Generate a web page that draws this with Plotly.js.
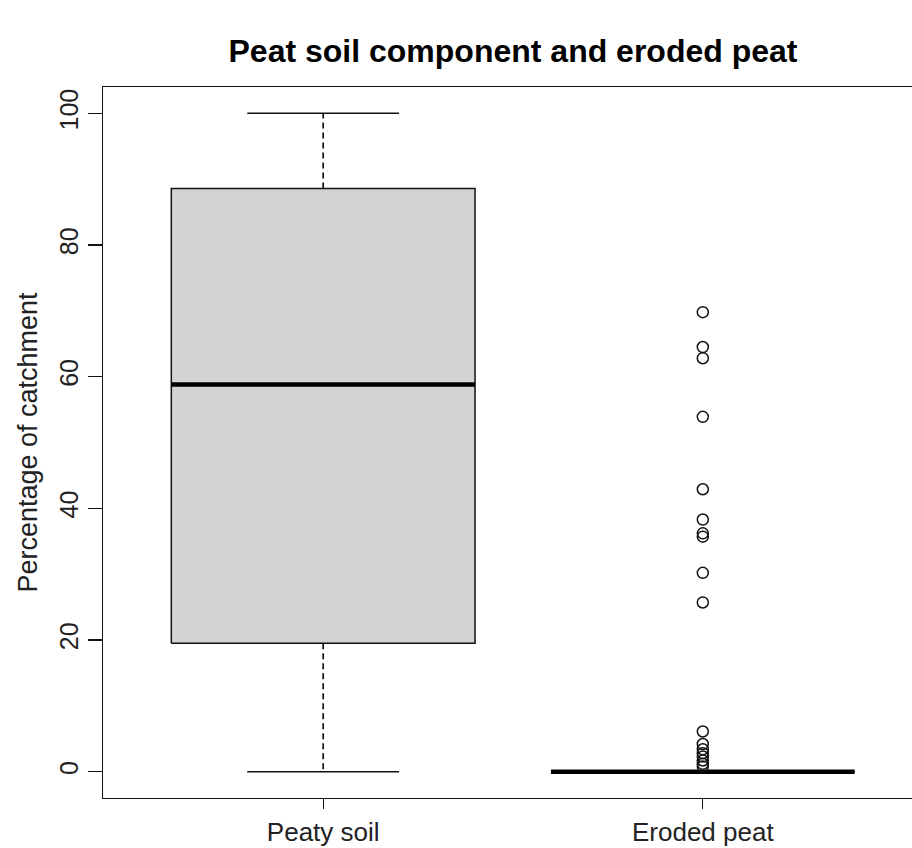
<!DOCTYPE html>
<html>
<head>
<meta charset="utf-8">
<script src="https://cdn.plot.ly/plotly-3.0.1.min.js"></script>
<style>
  html, body { margin: 0; padding: 0; overflow: hidden; background: #ffffff; }
  #chart { width: 924px; height: 848px; }
</style>
</head>
<body>
<div id="chart"></div>
<script>
// ---- data ----
var categories = ["Peaty soil", "Eroded peat"];
var lowerWhisker = [0, 0];
var q1 = [19.5, 0];
var medians = [58.8, 0];
var q3 = [88.6, 0];
var upperWhisker = [100, 0];
var outliersPeaty = [];
var outliersEroded = [69.8, 64.5, 62.8, 53.9, 42.9, 38.3, 36.2, 35.7, 30.2, 25.7,
                      6.1, 4.2, 3.4, 2.8, 2.3, 1.7, 1.2, 0.8];
var outliers = [outliersPeaty, outliersEroded];
var yTicks = [0, 20, 40, 60, 80, 100];

// ---- style ----
var halfBox = 0.4, halfCap = 0.2;
var ink = "#111111";
var traces = [];

categories.forEach(function (cat, i) {
  var c = i + 1;
  // box body
  traces.push({
    type: "scatter", mode: "lines",
    x: [c - halfBox, c + halfBox, c + halfBox, c - halfBox, c - halfBox],
    y: [q1[i], q1[i], q3[i], q3[i], q1[i]],
    fill: "toself", fillcolor: "#d3d3d3",
    line: { color: ink, width: 1.5 },
    hoverinfo: "skip", showlegend: false
  });
  // whiskers (dashed)
  traces.push({
    type: "scatter", mode: "lines",
    x: [c, c, null, c, c],
    y: [q3[i], upperWhisker[i], null, q1[i], lowerWhisker[i]],
    line: { color: ink, width: 1.7, dash: "6px,4px" },
    hoverinfo: "skip", showlegend: false
  });
  // whisker caps
  traces.push({
    type: "scatter", mode: "lines",
    x: [c - halfCap, c + halfCap, null, c - halfCap, c + halfCap],
    y: [upperWhisker[i], upperWhisker[i], null, lowerWhisker[i], lowerWhisker[i]],
    line: { color: ink, width: 1.5 },
    hoverinfo: "skip", showlegend: false
  });
  // median
  traces.push({
    type: "scatter", mode: "lines",
    x: [c - halfBox, c + halfBox],
    y: [medians[i], medians[i]],
    line: { color: "#000000", width: 4.5 },
    hoverinfo: "skip", showlegend: false
  });
  // outliers
  if (outliers[i].length) {
    traces.push({
      type: "scatter", mode: "markers",
      x: outliers[i].map(function () { return c; }),
      y: outliers[i],
      marker: { symbol: "circle-open", size: 11, color: ink, line: { width: 1.5, color: ink } },
      hoverinfo: "y", showlegend: false
    });
  }
});

var layout = {
  width: 924, height: 848,
  margin: { l: 103, r: 1, t: 87, b: 50 },
  paper_bgcolor: "#ffffff", plot_bgcolor: "#ffffff",
  font: { family: "Liberation Sans, Arial, sans-serif", color: ink },
  title: {
    text: "<b>Peat soil component and eroded peat</b>",
    font: { size: 32, color: "#000000" },
    x: 0.5, xref: "paper", xanchor: "center",
    y: 0.94, yref: "container", yanchor: "middle"
  },
  xaxis: {
    range: [0.42, 2.58],
    tickmode: "array", tickvals: categories.map(function (d, i) { return i + 1; }),
    ticktext: categories,
    ticks: "outside", ticklen: 10, tickwidth: 1.3, tickcolor: ink,
    tickfont: { size: 26, color: "#222222" },
    showline: true, linecolor: ink, linewidth: 1.4, mirror: true,
    showgrid: false, zeroline: false, fixedrange: true
  },
  yaxis: {
    range: [-4, 104],
    tickmode: "array", tickvals: yTicks, ticktext: yTicks.map(String),
    tickangle: -90,
    ticks: "outside", ticklen: 14, tickwidth: 1.3, tickcolor: ink,
    tickfont: { size: 25, color: "#222222" },
    showline: true, linecolor: ink, linewidth: 1.4, mirror: true,
    showgrid: false, zeroline: false, fixedrange: true,
    title: { text: "Percentage of catchment", font: { size: 27, color: "#222222" }, standoff: 9 }
  }
};

Plotly.newPlot("chart", traces, layout, { displayModeBar: false, staticPlot: true });
</script>
</body>
</html>
